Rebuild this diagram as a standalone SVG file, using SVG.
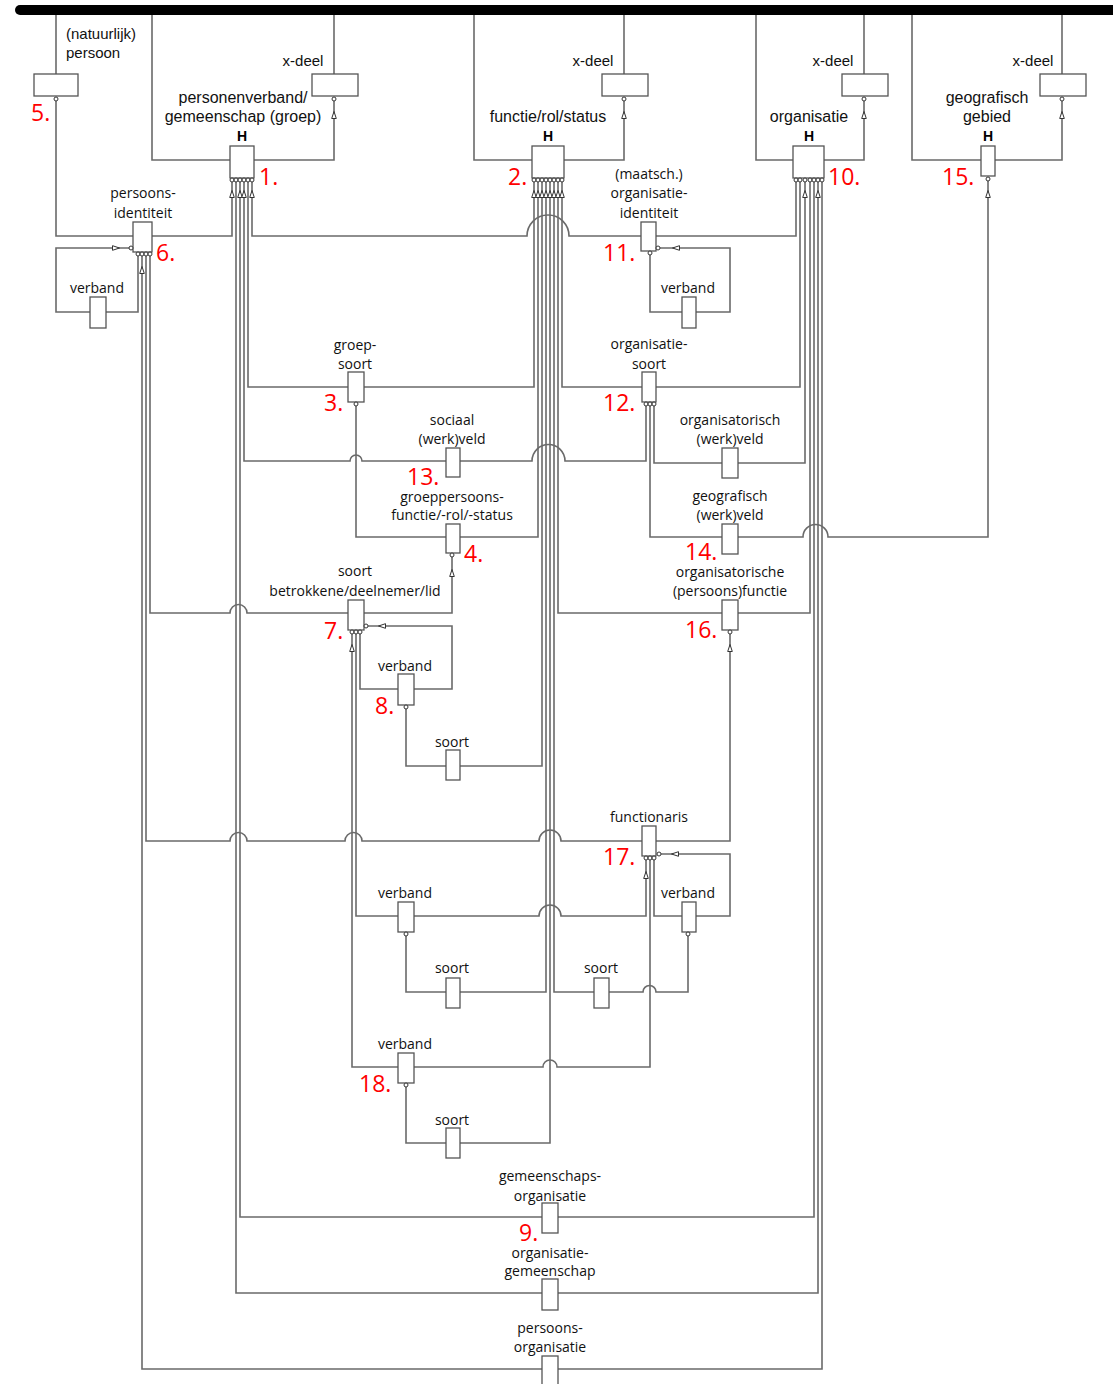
<svg xmlns="http://www.w3.org/2000/svg" xmlns:xlink="http://www.w3.org/1999/xlink" width="1113" height="1384" viewBox="0 0 1113 1384">
<style>
.ln{fill:none;stroke:#6a6a6a;stroke-width:1.6}
.bx{fill:#fff;stroke:#555;stroke-width:1.3}
.ah{fill:#fff;stroke:#333;stroke-width:1}
.pt{fill:#fff;stroke:#333;stroke-width:1}
.t1{font-family:"Liberation Sans",Arial,sans-serif;font-size:16px;fill:#111;text-anchor:middle}
.t1s{font-family:"Liberation Sans",Arial,sans-serif;font-size:15px;fill:#111}
.t2{font-family:"Open Sans",sans-serif;font-size:14px;fill:#111;text-anchor:middle}
.nr{font-family:"Open Sans",sans-serif;font-size:23px;fill:#ff0000}
.h{font-family:"Liberation Sans",Arial,sans-serif;font-weight:bold;font-size:14px;fill:#000;text-anchor:middle}
</style>
<defs>
<path id="au" d="M0,-3.5 L2.3,3.5 L-2.3,3.5 Z" class="ah"/>
<circle id="pt" r="2" class="pt"/>
</defs>
<rect width="1113" height="1384" fill="#fff"/>
<path d="M20,10 H1125" stroke="#000" stroke-width="10" stroke-linecap="round" fill="none"/>
<g id="connectors" class="ln">
<path d="M56,15 V74"/>
<path d="M152,15 V160 H334 V101"/>
<path d="M334,15 V74"/>
<path d="M474,15 V160 H624 V101"/>
<path d="M624,15 V74"/>
<path d="M756,15 V160 H864 V101"/>
<path d="M864,15 V74"/>
<path d="M912,15 V160 H1062 V101"/>
<path d="M1062,15 V74"/>
<path d="M56,101 V236 H232 V182"/>
<path d="M131,248 H56 V312 H138 V256"/>
<path d="M252,182 V236 H527 A21,21 0 0 1 569,236 H796 V182"/>
<path d="M248,182 V387 H534 V182"/>
<path d="M244,182 V461 H350 A6,6 0 0 1 362,461 H532 A16.5,16.5 0 0 1 565,461 H646 V406"/>
<path d="M240,182 V1217 H814 V182"/>
<path d="M236,182 V1293 H818 V182"/>
<path d="M142,256 V1369 H822 V182"/>
<path d="M146,256 V841 H230 A8.5,8.5 0 0 1 247,841 H345 A8.5,8.5 0 0 1 362,841 H539 A11,11 0 0 1 561,841 H730 V634"/>
<path d="M150,256 V613 H230 A8.5,8.5 0 0 1 247,613 H452 V557"/>
<path d="M356,406 V537 H538 V182"/>
<path d="M542,182 V766 H406 V709"/>
<path d="M546,182 V992 H406 V936"/>
<path d="M550,182 V1143 H406 V1087"/>
<path d="M554,182 V992 H643 A6.5,6.5 0 0 1 656,992 H688 V936"/>
<path d="M558,182 V613 H810 V182"/>
<path d="M562,182 V387 H800 V182"/>
<path d="M650,406 V537 H803 A12.5,12.5 0 0 1 828,537 H988 V181"/>
<path d="M654,406 V463 H805 V182"/>
<path d="M352,634 V1067 H543 A7,7 0 0 1 557,1067 H650 V860"/>
<path d="M356,634 V916 H539 A11,11 0 0 1 561,916 H646 V860"/>
<path d="M360,634 V689 H452 V626 H368"/>
<path d="M654,860 V916 H730 V854 H661"/>
<path d="M650,255 V312 H730 V248 H660"/>
</g>
<g id="n5">
<rect class="bx" x="34" y="74" width="44" height="22"/>
<text class="t1s" x="66" y="39">(natuurlijk)</text>
<text class="t1s" x="66" y="58">persoon</text>
<text class="nr" x="31" y="121">5.</text>
<use href="#pt" x="56" y="99"/>
</g>
<g id="n1">
<rect class="bx" x="230" y="146" width="24" height="32"/>
<text class="t1" x="243" y="103">personenverband/</text>
<text class="t1" x="243" y="122">gemeenschap (groep)</text>
<text class="h" x="242" y="141">H</text>
<text class="nr" x="259" y="185">1.</text>
<use href="#pt" x="232" y="180"/><use href="#pt" x="236" y="180"/><use href="#pt" x="240" y="180"/><use href="#pt" x="244" y="180"/><use href="#pt" x="248" y="180"/><use href="#pt" x="252" y="180"/>
<use href="#au" x="232" y="194"/><use href="#au" x="240" y="194"/><use href="#au" x="244" y="194"/><use href="#au" x="252" y="194"/>
</g>
<g id="xdeel1">
<rect class="bx" x="312" y="74" width="46" height="22"/>
<text class="t1s" x="303" y="66" text-anchor="middle">x-deel</text>
<use href="#pt" x="334" y="99"/><use href="#au" x="334" y="115"/>
</g>
<g id="n2">
<rect class="bx" x="532" y="146" width="32" height="32"/>
<text class="t1" x="548" y="122">functie/rol/status</text>
<text class="h" x="548" y="141">H</text>
<text class="nr" x="508" y="185">2.</text>
<use href="#pt" x="534" y="180"/><use href="#pt" x="538" y="180"/><use href="#pt" x="542" y="180"/><use href="#pt" x="546" y="180"/><use href="#pt" x="550" y="180"/><use href="#pt" x="554" y="180"/><use href="#pt" x="558" y="180"/><use href="#pt" x="562" y="180"/>
<use href="#au" x="534" y="194"/><use href="#au" x="538" y="194"/><use href="#au" x="542" y="194"/><use href="#au" x="546" y="194"/><use href="#au" x="550" y="194"/><use href="#au" x="554" y="194"/><use href="#au" x="558" y="194"/><use href="#au" x="562" y="194"/>
</g>
<g id="xdeel2">
<rect class="bx" x="602" y="74" width="46" height="22"/>
<text class="t1s" x="593" y="66" text-anchor="middle">x-deel</text>
<use href="#pt" x="624" y="99"/><use href="#au" x="624" y="115"/>
</g>
<g id="n10">
<rect class="bx" x="793" y="146" width="31" height="32"/>
<text class="t1" x="809" y="122">organisatie</text>
<text class="h" x="809" y="141">H</text>
<text class="nr" x="828" y="185">10.</text>
<use href="#pt" x="796" y="180"/><use href="#pt" x="800" y="180"/><use href="#pt" x="805" y="180"/><use href="#pt" x="810" y="180"/><use href="#pt" x="814" y="180"/><use href="#pt" x="818" y="180"/><use href="#pt" x="822" y="180"/>
<use href="#au" x="805" y="194"/><use href="#au" x="818" y="194"/>
</g>
<g id="xdeel3">
<rect class="bx" x="842" y="74" width="46" height="22"/>
<text class="t1s" x="833" y="66" text-anchor="middle">x-deel</text>
<use href="#pt" x="864" y="99"/><use href="#au" x="864" y="115"/>
</g>
<g id="n15">
<rect class="bx" x="981" y="146" width="14" height="30"/>
<text class="t1" x="987" y="103">geografisch</text>
<text class="t1" x="987" y="122">gebied</text>
<text class="h" x="988" y="141">H</text>
<text class="nr" x="942" y="185">15.</text>
<use href="#pt" x="988" y="179"/><use href="#au" x="988" y="194"/>
</g>
<g id="xdeel4">
<rect class="bx" x="1040" y="74" width="46" height="22"/>
<text class="t1s" x="1033" y="66" text-anchor="middle">x-deel</text>
<use href="#pt" x="1062" y="99"/><use href="#au" x="1062" y="115"/>
</g>
<g id="n6">
<rect class="bx" x="133" y="222" width="19" height="30"/>
<text class="t2" x="143" y="198">persoons-</text>
<text class="t2" x="143" y="218">identiteit</text>
<text class="nr" x="156" y="261">6.</text>
<use href="#pt" x="131" y="248"/>
<use href="#au" transform="translate(116,248) rotate(90)"/>
<use href="#pt" x="138" y="254"/><use href="#pt" x="142" y="254"/><use href="#pt" x="146" y="254"/><use href="#pt" x="150" y="254"/>
<use href="#au" x="142" y="270"/>
</g>
<g id="verband6">
<rect class="bx" x="90" y="297" width="16" height="31"/>
<text class="t2" x="97" y="293">verband</text>
</g>
<g id="n11">
<rect class="bx" x="641" y="222" width="15" height="29"/>
<text class="t2" x="649" y="179">(maatsch.)</text>
<text class="t2" x="649" y="198">organisatie-</text>
<text class="t2" x="649" y="218">identiteit</text>
<text class="nr" x="603" y="261">11.</text>
<use href="#pt" x="650" y="253"/><use href="#pt" x="658" y="248"/>
<use href="#au" transform="translate(676,248) rotate(-90)"/>
</g>
<g id="verband11">
<rect class="bx" x="682" y="297" width="14" height="31"/>
<text class="t2" x="688" y="293">verband</text>
</g>
<g id="n3">
<rect class="bx" x="348" y="372" width="16" height="30"/>
<text class="t2" x="355" y="350">groep-</text>
<text class="t2" x="355" y="369">soort</text>
<text class="nr" x="324" y="411">3.</text>
<use href="#pt" x="356" y="404"/>
</g>
<g id="n12">
<rect class="bx" x="642" y="372" width="14" height="30"/>
<text class="t2" x="649" y="349">organisatie-</text>
<text class="t2" x="649" y="369">soort</text>
<text class="nr" x="603" y="411">12.</text>
<use href="#pt" x="646" y="404"/><use href="#pt" x="650" y="404"/><use href="#pt" x="654" y="404"/>
</g>
<g id="n13">
<rect class="bx" x="446" y="448" width="14" height="29"/>
<text class="t2" x="452" y="425">sociaal</text>
<text class="t2" x="452" y="444">(werk)veld</text>
<text class="nr" x="407" y="485">13.</text>
</g>
<g id="orgwerkveld">
<rect class="bx" x="722" y="448" width="16" height="30"/>
<text class="t2" x="730" y="425">organisatorisch</text>
<text class="t2" x="730" y="444">(werk)veld</text>
</g>
<g id="n4">
<rect class="bx" x="446" y="524" width="14" height="29"/>
<text class="t2" x="452" y="502">groeppersoons-</text>
<text class="t2" x="452" y="520">functie/-rol/-status</text>
<text class="nr" x="464" y="562">4.</text>
<use href="#pt" x="452" y="555"/><use href="#au" x="452" y="573"/>
</g>
<g id="n14">
<rect class="bx" x="722" y="524" width="16" height="30"/>
<text class="t2" x="730" y="501">geografisch</text>
<text class="t2" x="730" y="520">(werk)veld</text>
<text class="nr" x="685" y="560">14.</text>
</g>
<g id="n7">
<rect class="bx" x="348" y="600" width="16" height="30"/>
<text class="t2" x="355" y="576">soort</text>
<text class="t2" x="355" y="596">betrokkene/deelnemer/lid</text>
<text class="nr" x="324" y="639">7.</text>
<use href="#pt" x="352" y="632"/><use href="#pt" x="356" y="632"/><use href="#pt" x="360" y="632"/>
<use href="#pt" x="366" y="626"/>
<use href="#au" transform="translate(382,626) rotate(-90)"/>
<use href="#au" x="352" y="648"/>
</g>
<g id="n16">
<rect class="bx" x="722" y="600" width="16" height="30"/>
<text class="t2" x="730" y="577">organisatorische</text>
<text class="t2" x="730" y="596">(persoons)functie</text>
<text class="nr" x="685" y="638">16.</text>
<use href="#pt" x="730" y="632"/><use href="#au" x="730" y="648"/>
</g>
<g id="n8">
<rect class="bx" x="398" y="674" width="16" height="31"/>
<text class="t2" x="405" y="671">verband</text>
<text class="nr" x="375" y="714">8.</text>
<use href="#pt" x="406" y="707"/>
</g>
<g id="soort8">
<rect class="bx" x="446" y="750" width="14" height="30"/>
<text class="t2" x="452" y="747">soort</text>
</g>
<g id="n17">
<rect class="bx" x="642" y="826" width="14" height="30"/>
<text class="t2" x="649" y="822">functionaris</text>
<text class="nr" x="603" y="865">17.</text>
<use href="#pt" x="646" y="858"/><use href="#pt" x="650" y="858"/><use href="#pt" x="654" y="858"/>
<use href="#pt" x="659" y="854"/>
<use href="#au" transform="translate(675,854) rotate(-90)"/>
<use href="#au" x="646" y="875"/>
</g>
<g id="verbandL">
<rect class="bx" x="398" y="902" width="16" height="30"/>
<text class="t2" x="405" y="898">verband</text>
<use href="#pt" x="406" y="934"/>
</g>
<g id="soortL">
<rect class="bx" x="446" y="978" width="14" height="30"/>
<text class="t2" x="452" y="973">soort</text>
</g>
<g id="verbandR">
<rect class="bx" x="682" y="902" width="14" height="30"/>
<text class="t2" x="688" y="898">verband</text>
<use href="#pt" x="688" y="934"/>
</g>
<g id="soortR">
<rect class="bx" x="594" y="978" width="15" height="30"/>
<text class="t2" x="601" y="973">soort</text>
</g>
<g id="n18">
<rect class="bx" x="398" y="1053" width="16" height="30"/>
<text class="t2" x="405" y="1049">verband</text>
<text class="nr" x="359" y="1092">18.</text>
<use href="#pt" x="406" y="1085"/>
</g>
<g id="soort18">
<rect class="bx" x="446" y="1128" width="14" height="30"/>
<text class="t2" x="452" y="1125">soort</text>
</g>
<g id="n9">
<rect class="bx" x="542" y="1203" width="16" height="30"/>
<text class="t2" x="550" y="1181">gemeenschaps-</text>
<text class="t2" x="550" y="1201">organisatie</text>
<text class="nr" x="519" y="1241">9.</text>
</g>
<g id="orggemeenschap">
<rect class="bx" x="542" y="1279" width="16" height="31"/>
<text class="t2" x="550" y="1258">organisatie-</text>
<text class="t2" x="550" y="1276">gemeenschap</text>
</g>
<g id="persoonsorganisatie">
<rect class="bx" x="542" y="1356" width="16" height="34"/>
<text class="t2" x="550" y="1333">persoons-</text>
<text class="t2" x="550" y="1352">organisatie</text>
</g>
</svg>
